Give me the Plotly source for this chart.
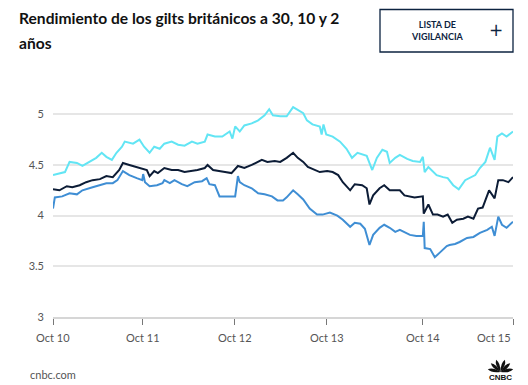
import math
import plotly.graph_objects as go

# ---- data (x = trading-day position, 0 = Oct 10 ... 5 = Oct 15) ----
x_30y = [0.00, 0.05, 0.13, 0.18, 0.26, 0.32, 0.40, 0.47, 0.53, 0.58, 0.64, 0.69, 0.75, 0.78, 0.87, 0.94,
         0.99, 1.05, 1.10, 1.16, 1.21, 1.29, 1.36, 1.43, 1.51, 1.57, 1.65, 1.68, 1.76, 1.84, 1.92, 1.95,
         1.98, 2.03, 2.08, 2.16, 2.23, 2.30, 2.35, 2.39, 2.47, 2.54, 2.61, 2.66, 2.72, 2.76, 2.82, 2.90,
         2.92, 2.94, 2.97, 3.04, 3.12, 3.19, 3.25, 3.31, 3.41, 3.47, 3.52, 3.58, 3.63, 3.66, 3.72, 3.77,
         3.85, 3.91, 3.99, 4.02, 4.04, 4.08, 4.13, 4.17, 4.24, 4.29, 4.35, 4.41, 4.48, 4.53, 4.59, 4.64,
         4.70, 4.75, 4.80, 4.83, 4.88, 4.93, 5.00]
y_30y = [4.40, 4.41, 4.43, 4.53, 4.52, 4.49, 4.53, 4.57, 4.62, 4.58, 4.55, 4.62, 4.68, 4.73, 4.71, 4.75,
         4.68, 4.62, 4.68, 4.66, 4.71, 4.73, 4.70, 4.69, 4.73, 4.71, 4.73, 4.80, 4.78, 4.78, 4.83, 4.76,
         4.88, 4.83, 4.89, 4.91, 4.94, 4.99, 5.05, 4.99, 4.98, 4.98, 5.07, 5.04, 5.01, 4.94, 4.90, 4.88,
         4.80, 4.90, 4.80, 4.78, 4.73, 4.66, 4.57, 4.62, 4.59, 4.45, 4.57, 4.65, 4.63, 4.52, 4.57, 4.60,
         4.56, 4.54, 4.53, 4.58, 4.43, 4.48, 4.44, 4.40, 4.38, 4.37, 4.30, 4.26, 4.35, 4.37, 4.40, 4.47,
         4.53, 4.67, 4.55, 4.78, 4.81, 4.78, 4.83]

x_10y = [0.00, 0.07, 0.15, 0.21, 0.29, 0.36, 0.43, 0.51, 0.58, 0.65, 0.72, 0.76, 0.83, 0.91, 0.97, 1.02,
         1.05, 1.10, 1.14, 1.21, 1.29, 1.36, 1.43, 1.51, 1.57, 1.65, 1.68, 1.74, 1.79, 1.87, 1.94, 2.01,
         2.08, 2.16, 2.27, 2.33, 2.41, 2.47, 2.54, 2.61, 2.66, 2.72, 2.77, 2.82, 2.90, 2.98, 3.04, 3.10,
         3.15, 3.23, 3.28, 3.36, 3.41, 3.44, 3.48, 3.55, 3.60, 3.66, 3.77, 3.82, 3.93, 4.02, 4.03, 4.08,
         4.13, 4.18, 4.24, 4.29, 4.34, 4.39, 4.46, 4.51, 4.57, 4.62, 4.67, 4.74, 4.80, 4.84, 4.89, 4.95,
         5.00]
y_10y = [4.26, 4.25, 4.29, 4.28, 4.30, 4.33, 4.35, 4.36, 4.39, 4.38, 4.45, 4.52, 4.50, 4.48, 4.47, 4.45,
         4.39, 4.44, 4.42, 4.47, 4.45, 4.45, 4.43, 4.44, 4.45, 4.47, 4.50, 4.45, 4.44, 4.43, 4.42, 4.49,
         4.47, 4.50, 4.55, 4.53, 4.54, 4.53, 4.57, 4.62, 4.57, 4.53, 4.48, 4.46, 4.43, 4.44, 4.43, 4.40,
         4.33, 4.25, 4.31, 4.30, 4.27, 4.11, 4.20, 4.27, 4.30, 4.25, 4.25, 4.20, 4.18, 4.19, 4.02, 4.11,
         4.01, 4.01, 3.99, 4.01, 3.93, 3.96, 3.97, 3.99, 3.97, 4.07, 4.08, 4.25, 4.17, 4.35, 4.35, 4.33,
         4.38]

x_2y = [0.00, 0.02, 0.10, 0.18, 0.26, 0.32, 0.43, 0.51, 0.58, 0.65, 0.70, 0.76, 0.83, 0.91, 0.97, 0.98,
        1.00, 1.05, 1.13, 1.19, 1.21, 1.27, 1.32, 1.40, 1.46, 1.54, 1.62, 1.67, 1.70, 1.76, 1.81, 1.98,
        2.01, 2.03, 2.08, 2.16, 2.23, 2.30, 2.38, 2.44, 2.50, 2.54, 2.61, 2.66, 2.72, 2.79, 2.87, 2.93,
        3.01, 3.09, 3.15, 3.23, 3.28, 3.34, 3.39, 3.44, 3.48, 3.55, 3.60, 3.66, 3.72, 3.77, 3.88, 3.95,
        4.02, 4.03, 4.04, 4.10, 4.15, 4.21, 4.28, 4.31, 4.37, 4.42, 4.50, 4.57, 4.64, 4.72, 4.77, 4.80,
        4.84, 4.88, 4.93, 5.00]
y_2y = [4.07, 4.18, 4.19, 4.22, 4.21, 4.25, 4.28, 4.30, 4.32, 4.32, 4.35, 4.44, 4.40, 4.37, 4.35, 4.41,
        4.33, 4.29, 4.30, 4.32, 4.35, 4.32, 4.35, 4.31, 4.29, 4.33, 4.34, 4.37, 4.31, 4.30, 4.19, 4.19,
        4.39, 4.33, 4.30, 4.27, 4.22, 4.21, 4.19, 4.15, 4.15, 4.18, 4.25, 4.21, 4.16, 4.07, 4.01, 4.01,
        4.03, 4.00, 3.96, 3.89, 3.93, 3.92, 3.87, 3.71, 3.81, 3.88, 3.91, 3.88, 3.84, 3.86, 3.81, 3.80,
        3.80, 3.94, 3.68, 3.67, 3.59, 3.64, 3.70, 3.71, 3.72, 3.74, 3.78, 3.79, 3.83, 3.86, 3.89, 3.80,
        3.99, 3.91, 3.88, 3.94]

tick_pos = [0.0, 0.978, 1.975, 2.978, 4.021, 5.0]
tick_text = ["Oct 10", "Oct 11", "Oct 12", "Oct 13", "Oct 14", "Oct 15"]
y_ticks = [3, 3.5, 4, 4.5, 5]
y_tick_text = ["3", "3.5", "4", "4.5", "5"]

title_line1 = "Rendimiento de los gilts británicos a 30, 10 y 2"
title_line2 = "años"

# ---- layout geometry ----
W, H = 528, 385
ML, MR, MT, MB = 53, 15, 94, 68
PW, PH = W - ML - MR, H - MT - MB


def px(x):
    return (x - ML) / PW


def py(y):
    return (H - MB - y) / PH


C30, C10, C2 = "#62e5f4", "#0c1c36", "#3f8ed4"
FONT = "Lato, 'Open Sans', sans-serif"

fig = go.Figure()
for xs, ys, c, nm in [(x_30y, y_30y, C30, "30 años"), (x_10y, y_10y, C10, "10 años"), (x_2y, y_2y, C2, "2 años")]:
    fig.add_trace(go.Scatter(x=xs, y=ys, mode="lines", name=nm,
                             line=dict(color=c, width=2), hoverinfo="skip"))

annotations = [
    dict(text=title_line1, x=px(17), y=py(18), xref="paper", yref="paper", xanchor="left", yanchor="middle",
         showarrow=False, font=dict(family=FONT, size=15.6, color="#111111", weight="bold")),
    dict(text=title_line2, x=px(17), y=py(43), xref="paper", yref="paper", xanchor="left", yanchor="middle",
         showarrow=False, font=dict(family=FONT, size=15.6, color="#111111", weight="bold")),
    dict(text="LISTA DE<br>VIGILANCIA", x=px(437), y=py(30.5), xref="paper", yref="paper",
         xanchor="center", yanchor="middle", showarrow=False, align="center",
         font=dict(family=FONT, size=9, color="#0c2340", weight="bold")),
    dict(text="+", x=px(496), y=py(30), xref="paper", yref="paper", xanchor="center", yanchor="middle",
         showarrow=False, font=dict(family="DejaVu Sans, sans-serif", size=17, color="#0c2340")),
    dict(text="cnbc.com", x=px(28), y=py(374), xref="paper", yref="paper", xanchor="left", yanchor="middle",
         showarrow=False, font=dict(family=FONT, size=11, color="#555555")),
    dict(text="CNBC", x=px(500.5), y=py(377.5), xref="paper", yref="paper", xanchor="center", yanchor="middle",
         showarrow=False, font=dict(family="Liberation Sans, Arial, sans-serif", size=8, color="#111111",
                                    weight="bold")),
]
for i, (tv, tt) in enumerate(zip(tick_pos, tick_text)):
    last = i == len(tick_pos) - 1
    annotations.append(dict(text=tt, x=tv, y=py(337), xref="x", yref="paper",
                            xanchor="right" if last else "center", yanchor="middle", showarrow=False,
                            font=dict(family=FONT, size=11, color="#555555")))

shapes = [
    dict(type="rect", xref="paper", yref="paper", x0=px(380), x1=px(513), y0=py(9.5), y1=py(52),
         line=dict(color="#0c2340", width=1.3), fillcolor="rgba(0,0,0,0)", layer="above"),
]

# peacock feathers of the logo (decoration)
cx, cy = 500.5, 372.0
for ang in [168, 138, 110, 70, 42, 12]:
    a = math.radians(ang)
    L, wd = 13.0, 3.2
    tipx, tipy = cx + L * math.cos(a), cy - L * math.sin(a)
    nx, ny = -math.sin(a), -math.cos(a)
    mx, my = cx + 0.65 * L * math.cos(a), cy - 0.65 * L * math.sin(a)
    p1 = (mx + wd * nx, my + wd * ny)
    p2 = (mx - wd * nx, my - wd * ny)
    path = (f"M {px(cx)},{py(cy)} Q {px(p1[0])},{py(p1[1])} {px(tipx)},{py(tipy)} "
            f"Q {px(p2[0])},{py(p2[1])} {px(cx)},{py(cy)} Z")
    shapes.append(dict(type="path", xref="paper", yref="paper", path=path,
                       fillcolor="#111111", line=dict(width=0)))

fig.update_layout(
    width=W, height=H,
    margin=dict(l=ML, r=MR, t=MT, b=MB),
    paper_bgcolor="white", plot_bgcolor="white",
    showlegend=False,
    xaxis=dict(range=[0, 5], tickvals=tick_pos, ticktext=tick_text, showticklabels=False,
               showgrid=False, zeroline=False, showline=True, linecolor="#d6d6d6", linewidth=1.5,
               ticks="outside", ticklen=6, tickcolor="#777777", tickwidth=1.3, fixedrange=True),
    yaxis=dict(range=[3, 5.2], tickvals=y_ticks, ticktext=y_tick_text, showgrid=True,
               gridcolor="#e6e6e6", gridwidth=1.5, zeroline=False, showline=False, ticks="",
               ticklabelstandoff=8, tickfont=dict(family=FONT, size=11, color="#555555"), fixedrange=True),
    annotations=annotations,
    shapes=shapes,
)

fig.write_html("out.html", config={"displayModeBar": False},
               post_script="document.body.style.margin='0';document.body.style.overflow='hidden';")
